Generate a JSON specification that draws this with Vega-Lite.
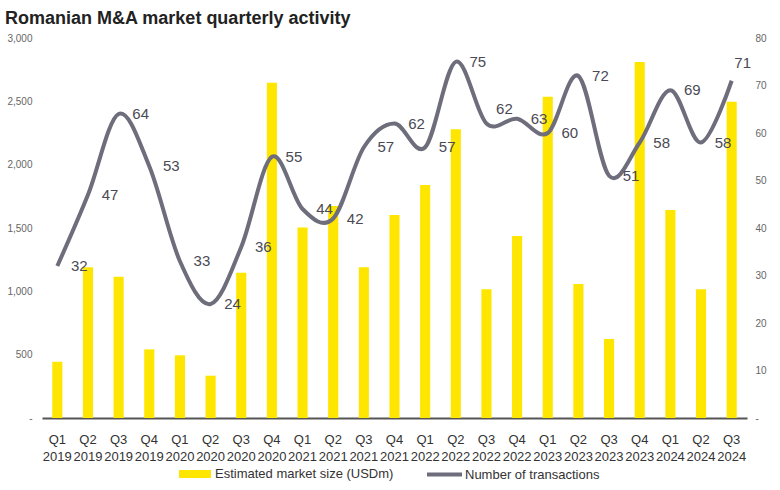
{
  "$schema": "https://vega.github.io/schema/vega-lite/v6.json",
  "autosize": {"type": "none"},
  "width": 705,
  "height": 380,
  "padding": {"left": 42, "top": 38, "right": 33, "bottom": 72},
  "background": "white",
  "title": {
    "text": "Romanian M&A market quarterly activity",
    "anchor": "start",
    "frame": "group",
    "font": "Liberation Sans",
    "fontSize": 18,
    "fontWeight": "bold",
    "color": "#222222",
    "dx": -37,
    "offset": 5
  },
  "data": {
    "values": [
      {"period": "Q1 2019", "size": 444, "deals": 32},
      {"period": "Q2 2019", "size": 1190, "deals": 47},
      {"period": "Q3 2019", "size": 1116, "deals": 64},
      {"period": "Q4 2019", "size": 542, "deals": 53},
      {"period": "Q1 2020", "size": 495, "deals": 33},
      {"period": "Q2 2020", "size": 334, "deals": 24},
      {"period": "Q3 2020", "size": 1147, "deals": 36},
      {"period": "Q4 2020", "size": 2647, "deals": 55},
      {"period": "Q1 2021", "size": 1503, "deals": 44},
      {"period": "Q2 2021", "size": 1674, "deals": 42},
      {"period": "Q3 2021", "size": 1190, "deals": 57},
      {"period": "Q4 2021", "size": 1603, "deals": 62},
      {"period": "Q1 2022", "size": 1840, "deals": 57},
      {"period": "Q2 2022", "size": 2279, "deals": 75},
      {"period": "Q3 2022", "size": 1016, "deals": 62},
      {"period": "Q4 2022", "size": 1437, "deals": 63},
      {"period": "Q1 2023", "size": 2537, "deals": 60},
      {"period": "Q2 2023", "size": 1058, "deals": 72},
      {"period": "Q3 2023", "size": 624, "deals": 51},
      {"period": "Q4 2023", "size": 2810, "deals": 58},
      {"period": "Q1 2024", "size": 1642, "deals": 69},
      {"period": "Q2 2024", "size": 1016, "deals": 58},
      {"period": "Q3 2024", "size": 2497, "deals": 71}
    ]
  },
  "encoding": {
    "x": {
      "field": "period",
      "type": "nominal",
      "sort": null,
      "scale": {"paddingInner": 0.67, "paddingOuter": 0.335},
      "axis": {
        "title": null,
        "labelAngle": 0,
        "labelExpr": "split(datum.label, ' ')",
        "labelFont": "Liberation Sans",
        "labelFontSize": 13,
        "labelColor": "#333333",
        "labelLineHeight": 17,
        "labelPadding": 15,
        "ticks": false,
        "domain": true,
        "domainColor": "#555555",
        "domainWidth": 2,
        "grid": false
      }
    }
  },
  "layer": [
    {
      "mark": {"type": "bar", "color": "#FFE600"},
      "encoding": {
        "y": {
          "field": "size",
          "type": "quantitative",
          "scale": {"domain": [0, 3000], "nice": false},
          "axis": {
            "title": null,
            "values": [0, 500, 1000, 1500, 2000, 2500, 3000],
            "labelExpr": "datum.value === 0 ? '-' : format(datum.value, ',')",
            "labelFont": "Liberation Sans",
            "labelFontSize": 10,
            "labelColor": "#666666",
            "labelPadding": 10,
            "ticks": false,
            "domain": false,
            "grid": false
          }
        },
        "fill": {
          "datum": "Estimated market size (USDm)",
          "type": "nominal",
          "scale": {"range": ["#FFE600"]},
          "legend": {
            "orient": "none",
            "legendX": 137,
            "legendY": 420,
            "title": null,
            "symbolType": "M-1,-0.25H1V0.25H-1Z",
            "symbolSize": 1024,
            "symbolStrokeWidth": 0,
            "labelFont": "Liberation Sans",
            "labelFontSize": 13,
            "labelColor": "#333333",
            "labelOffset": 4,
            "labelLimit": 400,
            "padding": 0
          }
        }
      }
    },
    {
      "mark": {"type": "line", "interpolate": "cardinal", "strokeWidth": 4},
      "encoding": {
        "y": {
          "field": "deals",
          "type": "quantitative",
          "scale": {"domain": [0, 80], "nice": false},
          "axis": {
            "orient": "right",
            "title": null,
            "values": [0, 10, 20, 30, 40, 50, 60, 70, 80],
            "labelExpr": "datum.value === 0 ? '-' : datum.label",
            "labelFont": "Liberation Sans",
            "labelFontSize": 10,
            "labelColor": "#666666",
            "labelPadding": 8,
            "ticks": false,
            "domain": false,
            "grid": false
          }
        },
        "stroke": {
          "datum": "Number of transactions",
          "type": "nominal",
          "scale": {"range": ["#6E6D7C"]},
          "legend": {
            "orient": "none",
            "legendX": 383,
            "legendY": 417,
            "title": null,
            "symbolType": "stroke",
            "symbolSize": 1225,
            "symbolStrokeWidth": 4,
            "labelFont": "Liberation Sans",
            "labelFontSize": 13,
            "labelColor": "#333333",
            "labelOffset": 1,
            "labelLimit": 400,
            "padding": 0
          }
        }
      }
    },
    {
      "transform": [{"filter": "datum.period !== 'Q3 2024' && datum.period !== 'Q3 2022'"}],
      "mark": {"type": "text", "dx": 22, "baseline": "middle", "font": "Liberation Sans", "fontSize": 15, "color": "#4A4A55"},
      "encoding": {
        "y": {"field": "deals", "type": "quantitative", "scale": {"domain": [0, 80], "nice": false}, "axis": null},
        "text": {"field": "deals", "type": "quantitative"}
      }
    },
    {
      "transform": [{"filter": "datum.period === 'Q3 2022'"}],
      "mark": {"type": "text", "dx": 18, "dy": -15, "baseline": "middle", "font": "Liberation Sans", "fontSize": 15, "color": "#4A4A55"},
      "encoding": {
        "y": {"field": "deals", "type": "quantitative", "scale": {"domain": [0, 80], "nice": false}, "axis": null},
        "text": {"field": "deals", "type": "quantitative"}
      }
    },
    {
      "transform": [{"filter": "datum.period === 'Q3 2024'"}],
      "mark": {"type": "text", "dx": 11, "dy": -18, "baseline": "middle", "font": "Liberation Sans", "fontSize": 15, "color": "#4A4A55"},
      "encoding": {
        "y": {"field": "deals", "type": "quantitative", "scale": {"domain": [0, 80], "nice": false}, "axis": null},
        "text": {"field": "deals", "type": "quantitative"}
      }
    }
  ],
  "resolve": {"scale": {"y": "independent"}},
  "config": {"view": {"stroke": null}}
}
